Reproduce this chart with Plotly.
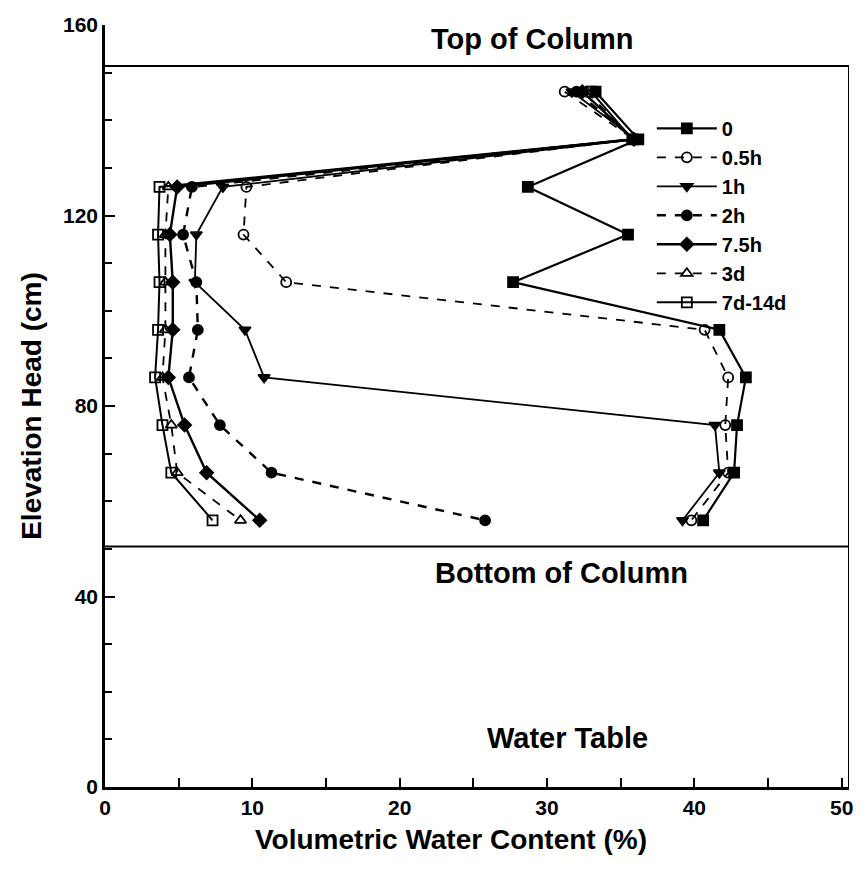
import plotly.graph_objects as go

# Sampling elevations (cm above datum)
elevation = [146, 136, 126, 116, 106, 96, 86, 76, 66, 56]

# Volumetric water content (%) at each elevation, by elapsed time
wc_0 = [33.3, 36.2, 28.7, 35.5, 27.7, 41.7, 43.5, 42.9, 42.7, 40.6]
wc_05h = [31.2, 35.9, 9.6, 9.4, 12.3, 40.7, 42.3, 42.1, 42.3, 39.8]
wc_1h = [31.7, 36.0, 8.0, 6.2, 6.1, 9.5, 10.8, 41.4, 41.7, 39.2]
wc_2h = [32.0, 35.9, 5.9, 5.3, 6.2, 6.3, 5.7, 7.8, 11.3, 25.8]
wc_75h = [32.4, 35.9, 4.9, 4.4, 4.6, 4.6, 4.3, 5.4, 6.9, 10.5]
wc_3d = [32.7, 35.8, 4.3, 4.1, 4.1, 4.1, 3.9, 4.5, 4.9, 9.2]
wc_7d = [33.0, 35.8, 3.7, 3.6, 3.7, 3.6, 3.4, 3.9, 4.5, 7.3]

series_names = ["0", "0.5h", "1h", "2h", "7.5h", "3d", "7d-14d"]
series_values = [wc_0, wc_05h, wc_1h, wc_2h, wc_75h, wc_3d, wc_7d]
series_symbols = ["square", "circle-open", "triangle-down", "circle",
                  "diamond", "triangle-up-open", "square-open"]
series_dash = ["solid", "dash", "solid", "dash", "solid", "dash", "solid"]
series_lw = [2.2, 1.8, 1.8, 2.4, 2.4, 1.8, 2.0]

COLUMN_TOP = 151.4
COLUMN_BOTTOM = 50.5
X_MAX = 50.5

FONT = "Liberation Sans"

fig = go.Figure()
for name, vals, sym, dash, lw in zip(series_names, series_values,
                                     series_symbols, series_dash, series_lw):
    fig.add_trace(go.Scatter(
        x=vals, y=elevation, mode="lines+markers", name=name,
        line=dict(color="black", width=lw, dash=dash),
        marker=dict(symbol=sym, size=10, color="black",
                    line=dict(color="black", width=1.8)),
    ))

# Column outline: top, bottom and right side
fig.add_shape(type="line", x0=0, x1=X_MAX, y0=COLUMN_TOP, y1=COLUMN_TOP,
              line=dict(color="black", width=2))
fig.add_shape(type="line", x0=0, x1=X_MAX, y0=COLUMN_BOTTOM, y1=COLUMN_BOTTOM,
              line=dict(color="black", width=2))
fig.add_shape(type="line", x0=X_MAX, x1=X_MAX, y0=0, y1=COLUMN_TOP,
              line=dict(color="black", width=2))

label_font = dict(family=FONT, size=29, color="black", weight="bold")
fig.add_annotation(x=29, y=157, text="Top of Column", showarrow=False,
                   font=label_font)
fig.add_annotation(x=31, y=45, text="Bottom of Column", showarrow=False,
                   font=label_font)
fig.add_annotation(x=31.4, y=10.3, text="Water Table", showarrow=False,
                   font=label_font)

tick_font = dict(family=FONT, size=21, color="black", weight="bold")
title_font = dict(family=FONT, size=28, color="black", weight="bold")

# x-axis title, set slightly left of the axis centre
fig.add_annotation(xref="paper", yref="paper", x=0.465, y=-0.069,
                   xanchor="center", yanchor="middle", showarrow=False,
                   text="Volumetric Water Content (%)", font=title_font)

fig.update_xaxes(
    range=[0, X_MAX], tickvals=[0, 10, 20, 30, 40, 50],
    ticks="inside", ticklen=9, tickwidth=2, tickcolor="black",
    minor=dict(ticks="inside", dtick=5, ticklen=9, tickwidth=2,
               tickcolor="black"),
    showline=True, linecolor="black", linewidth=2.5,
    showgrid=False, zeroline=False, tickfont=tick_font,
)
fig.update_yaxes(
    range=[0, 160], tickvals=[0, 40, 80, 120, 160],
    ticks="inside", ticklen=10, tickwidth=2, tickcolor="black",
    minor=dict(ticks="inside", dtick=10, ticklen=7, tickwidth=1.5,
               tickcolor="black"),
    showline=True, linecolor="black", linewidth=2.5,
    showgrid=False, zeroline=False, tickfont=tick_font,
    title=dict(text="Elevation Head (cm)", standoff=14, font=title_font),
)

fig.update_layout(
    width=867, height=869,
    margin=dict(l=105, r=18, t=25, b=82),
    paper_bgcolor="white", plot_bgcolor="white",
    font=dict(family=FONT, color="black"),
    legend=dict(x=0.735, y=0.89, xanchor="left", yanchor="top",
                bgcolor="rgba(0,0,0,0)", itemwidth=60,
                font=dict(family=FONT, size=20, color="black",
                          weight="bold"),
                tracegroupgap=2),
    showlegend=True,
)

fig.write_html("out.html")
